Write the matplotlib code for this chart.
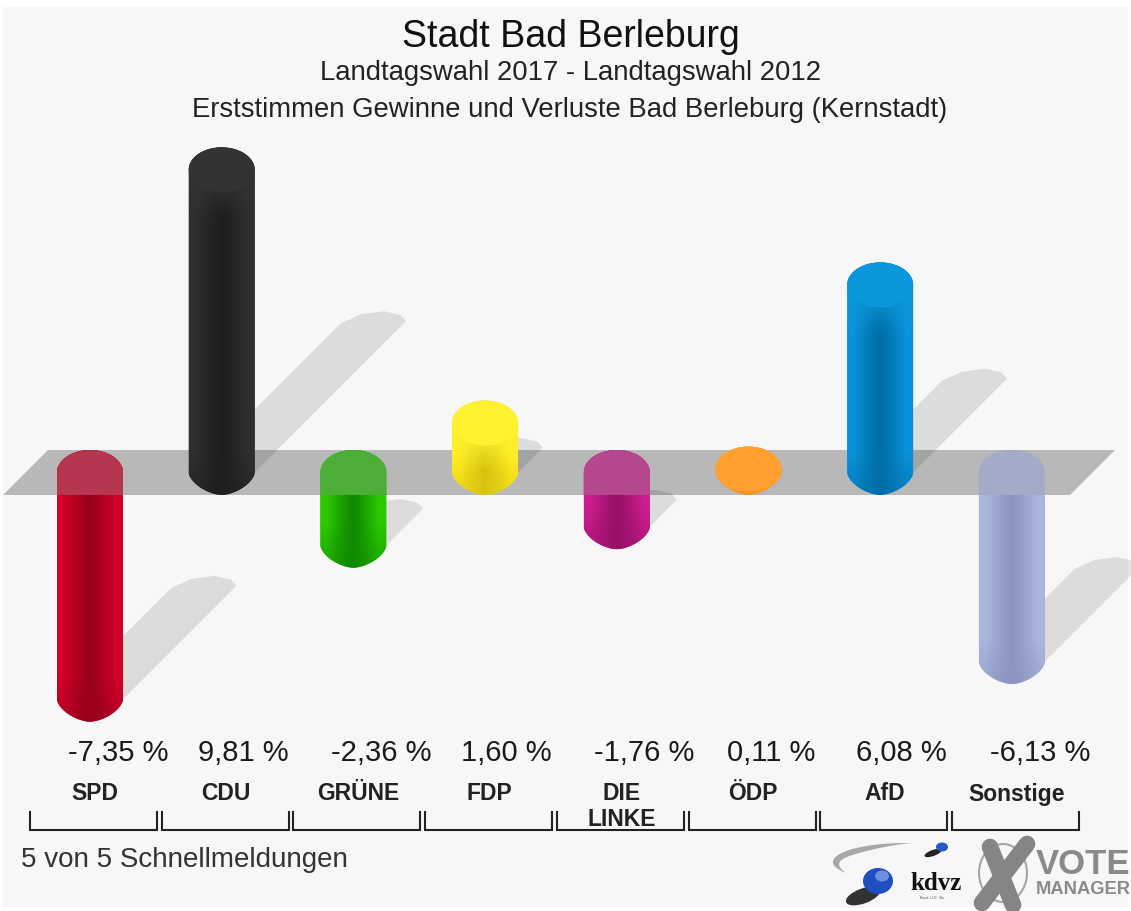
import numpy as np
import matplotlib
matplotlib.use("Agg")
import matplotlib.pyplot as plt
from matplotlib.patches import Ellipse, Polygon, PathPatch, Rectangle
from matplotlib.path import Path
from matplotlib.transforms import Affine2D

parties = ["SPD", "CDU", "GRÜNE", "FDP", "DIE\nLINKE", "ÖDP", "AfD", "Sonstige"]
values = [-7.35, 9.81, -2.36, 1.60, -1.76, 0.11, 6.08, -6.13]
value_labels = ["-7,35 %", "9,81 %", "-2,36 %", "1,60 %", "-1,76 %", "0,11 %", "6,08 %", "-6,13 %"]
edge_colors = ["#d00028", "#2f2f2f", "#2cc800", "#ffee22", "#cc1e8e", "#ffa030", "#0a92da", "#aab6de"]
center_colors = ["#98001c", "#1e1e1e", "#0f8a00", "#d8c410", "#981068", "#e08820", "#006ea6", "#8a96c0"]
cap_colors = ["#d00028", "#333333", "#2cc800", "#fff030", "#cc1e8e", "#ffa030", "#0a97dc", "#aab6de"]
title = "Stadt Bad Berleburg"
subtitle1 = "Landtagswahl 2017 - Landtagswahl 2012"
subtitle2 = "Erststimmen Gewinne und Verluste Bad Berleburg (Kernstadt)"
footer = "5 von 5 Schnellmeldungen"

W, H = 1131, 911
X0, XSTEP = 90.0, 131.7
Y0, YSCALE = 472.5, 30.85
HALF_W, HALF_H = 33.0, 22.5
FONT = "Liberation Sans"

fig = plt.figure(figsize=(W / 100, H / 100), dpi=100, facecolor="white")
ax = fig.add_axes([0, 0, 1, 1])
ax.axis("off")
xlim = (-X0 / XSTEP, (W - X0) / XSTEP)
ylim = (-(H - Y0) / YSCALE, Y0 / YSCALE)
ax.set_xlim(*xlim)
ax.set_ylim(*ylim)
pxT = Affine2D().scale(1, -1).translate(0, H)
dx, dy = HALF_W / XSTEP, HALF_H / YSCALE


def to_rgb(c):
    return np.array(matplotlib.colors.to_rgb(c))


def cylinder_path(i, low, high):
    t = np.linspace(0, np.pi, 60)
    top = np.c_[i + dx * np.cos(t), high + dy * np.sin(t)]
    p = 1.65
    c, s = np.cos(t), np.sin(t)
    bot = np.c_[i - dx * np.sign(c) * np.abs(c) ** (2 / p), low - dy * s ** (2 / p)]
    return Path(np.vstack([top, bot, top[:1]]), closed=True)


ax.add_patch(Rectangle((3, 7), W - 6, H - 10, transform=pxT, fc="#f7f7f7", ec="none", zorder=0))

# cast shadows
for i, v in enumerate(values):
    xr, yb = ax.transData.transform((i + dx, min(v, 0)))
    yb = H - yb
    s = 0.5 * abs(v) * YSCALE
    tx, ty = xr + s, yb - s
    pts = [(xr - 1, yb + 1), (tx, ty), (tx - 5, ty - 6), (tx - 22, ty - 10), (tx - 45, ty - 7), (tx - 65, ty + 2)]
    if tx - 65 > xr:
        pts.append((xr - 1, ty + 2 + (tx - 65 - xr + 1)))
    ax.add_patch(Polygon(pts, closed=True, transform=pxT, fc="black", alpha=0.105, ec="none", zorder=1))

# base plane
ax.add_patch(Polygon([(3, 495), (48, 450), (1115, 450), (1070, 495)], closed=True, transform=pxT,
                     fc="black", alpha=0.255, ec="none", zorder=2))

# bars
for i, v in enumerate(values):
    low, high = min(v, 0), max(v, 0)
    patch = PathPatch(cylinder_path(i, low, high), fc=edge_colors[i], ec="none", transform=ax.transData, zorder=3)
    ax.add_patch(patch)
    edge, center, cap = to_rgb(edge_colors[i]), to_rgb(center_colors[i]), to_rgb(cap_colors[i])
    xs = np.linspace(-1, 1, 81)
    mix = (np.clip(np.abs(xs) * 1.25, 0, 1) ** 1.2)[None, :, None]
    total_px = int((high - low) * YSCALE + 2 * HALF_H) + 1
    rows = np.arange(total_px)[:, None, None]
    base = center * (1 - mix) + edge * mix
    # darker toward the rounded end, lighter just below a top cap
    fade_low = np.clip((rows - (total_px - 2 * HALF_H)) / (2 * HALF_H), 0, 1) * 0.55
    grid = base * (1 - fade_low) + center * fade_low
    if v > 0:
        fade_top = np.clip(1 - (rows - 2 * HALF_H) / 25.0, 0, 1) * 0.6
        grid = grid * (1 - fade_top) + cap * fade_top
    img = ax.imshow(grid, extent=[i - dx, i + dx, low - dy, high + dy], aspect="auto",
                    interpolation="bilinear", zorder=3.1)
    img.set_clip_path(patch)
    if v > 0:
        ax.add_patch(Ellipse((i, high), 2 * dx, 2 * dy, fc=cap_colors[i], ec="none", zorder=3.2))
    else:
        # the plane tints the upper part of bars that hang below it
        t = np.linspace(0, np.pi, 60)
        arc = np.c_[i + dx * np.cos(t), dy * np.sin(t)]
        poly = np.vstack([arc, [[i - dx, -dy]], [[i + dx, -dy]]])
        tint = ((edge + center) / 2) * 0.7 + to_rgb("#b8b8b8") * 0.3
        ax.add_patch(Polygon(poly, closed=True, fc=tint, ec="none", zorder=3.3))

ax.set_xlim(*xlim)
ax.set_ylim(*ylim)


def ptxt(x, y, s, size, ha="center", va="center", color="#1a1a1a", weight="normal", family=FONT, **kw):
    return ax.text(x, y, s, transform=pxT, fontsize=size, ha=ha, va=va, color=color,
                   family=family, weight=weight, zorder=6, **kw)


ptxt(571, 37, title, 27, color="#111111")
ptxt(570, 73, subtitle1, 19.8, color="#222222")
ptxt(570, 110, subtitle2, 19.8, color="#222222")
ptxt(21, 860, footer, 20, ha="left", color="#333333")

# labels and brackets
for i, (name, lab, v) in enumerate(zip(parties, value_labels, values)):
    left = 30 + XSTEP * i
    right = 157 + XSTEP * i
    mid = (left + right) / 2
    ptxt(right + (11 if v < 0 else 0), 753, lab, 21, ha="right")
    if "\n" in name:
        a, b = name.split("\n")
        ptxt(mid + 1, 793, a, 16.5, weight="bold", color="#222222")
        ptxt(mid + 1, 820, b, 16.5, weight="bold", color="#222222")
    else:
        ptxt(mid + 1, 794, name, 16.5, weight="bold", color="#222222")
    ax.plot([left, left, right, right], [812, 830, 830, 812], transform=pxT, color="#222222", lw=1.5,
            solid_joinstyle="miter", zorder=6)

# kdvz logo
th = np.radians(np.linspace(85, 215, 50))
u = np.linspace(0, 1, 50)
thick = 9 * np.sin(np.pi * u)
outer = np.c_[905 + 72 * np.cos(th), 862 - 19 * np.sin(th)]
inner = np.c_[905 + (72 - thick) * np.cos(th), 862 - (19 - thick * 0.7) * np.sin(th)]
ax.add_patch(Polygon(np.vstack([outer, inner[::-1]]), closed=True, transform=pxT,
                     fc="#a8a8a8", ec="none", zorder=5))
ax.add_patch(Ellipse((863, 896), 36, 15, angle=-20, transform=pxT, fc="#1c1c1c", ec="none", zorder=5, alpha=0.9))
ax.add_patch(Ellipse((878, 881), 30, 26, transform=pxT, fc="#1f4fc0", ec="none", zorder=5.1))
ax.add_patch(Ellipse((882, 876), 14, 11, transform=pxT, fc="#6f8fe0", ec="none", zorder=5.2))
ax.add_patch(Ellipse((933, 853), 18, 6, angle=-20, transform=pxT, fc="#222222", ec="none", zorder=5))
ax.add_patch(Ellipse((942, 847), 12, 9, transform=pxT, fc="#2558c8", ec="none", zorder=5.1))
ptxt(936, 884, "kdvz", 18, color="#111111", weight="bold", family="Liberation Serif")
ptxt(932, 898, "Bund  U.D.  Bu", 2.6, color="#555555")

# VOTE MANAGER logo
ax.add_patch(Ellipse((1003, 873), 48, 58, transform=pxT, fc="none", ec="#a5a5a5", lw=1.5, zorder=5))
ax.plot([990, 1013], [847, 905], transform=pxT, color="#858585", lw=12, solid_capstyle="round", zorder=5.1)
ax.plot([1027, 982], [844, 903], transform=pxT, color="#858585", lw=12, solid_capstyle="round", zorder=5.1)
ptxt(1036, 865, "VOTE", 25, ha="left", color="#8a8a8a", weight="bold")
ptxt(1036, 890, "MANAGER", 13.2, ha="left", color="#8a8a8a", weight="bold")

fig.savefig("out.png", dpi=100, facecolor="white")
